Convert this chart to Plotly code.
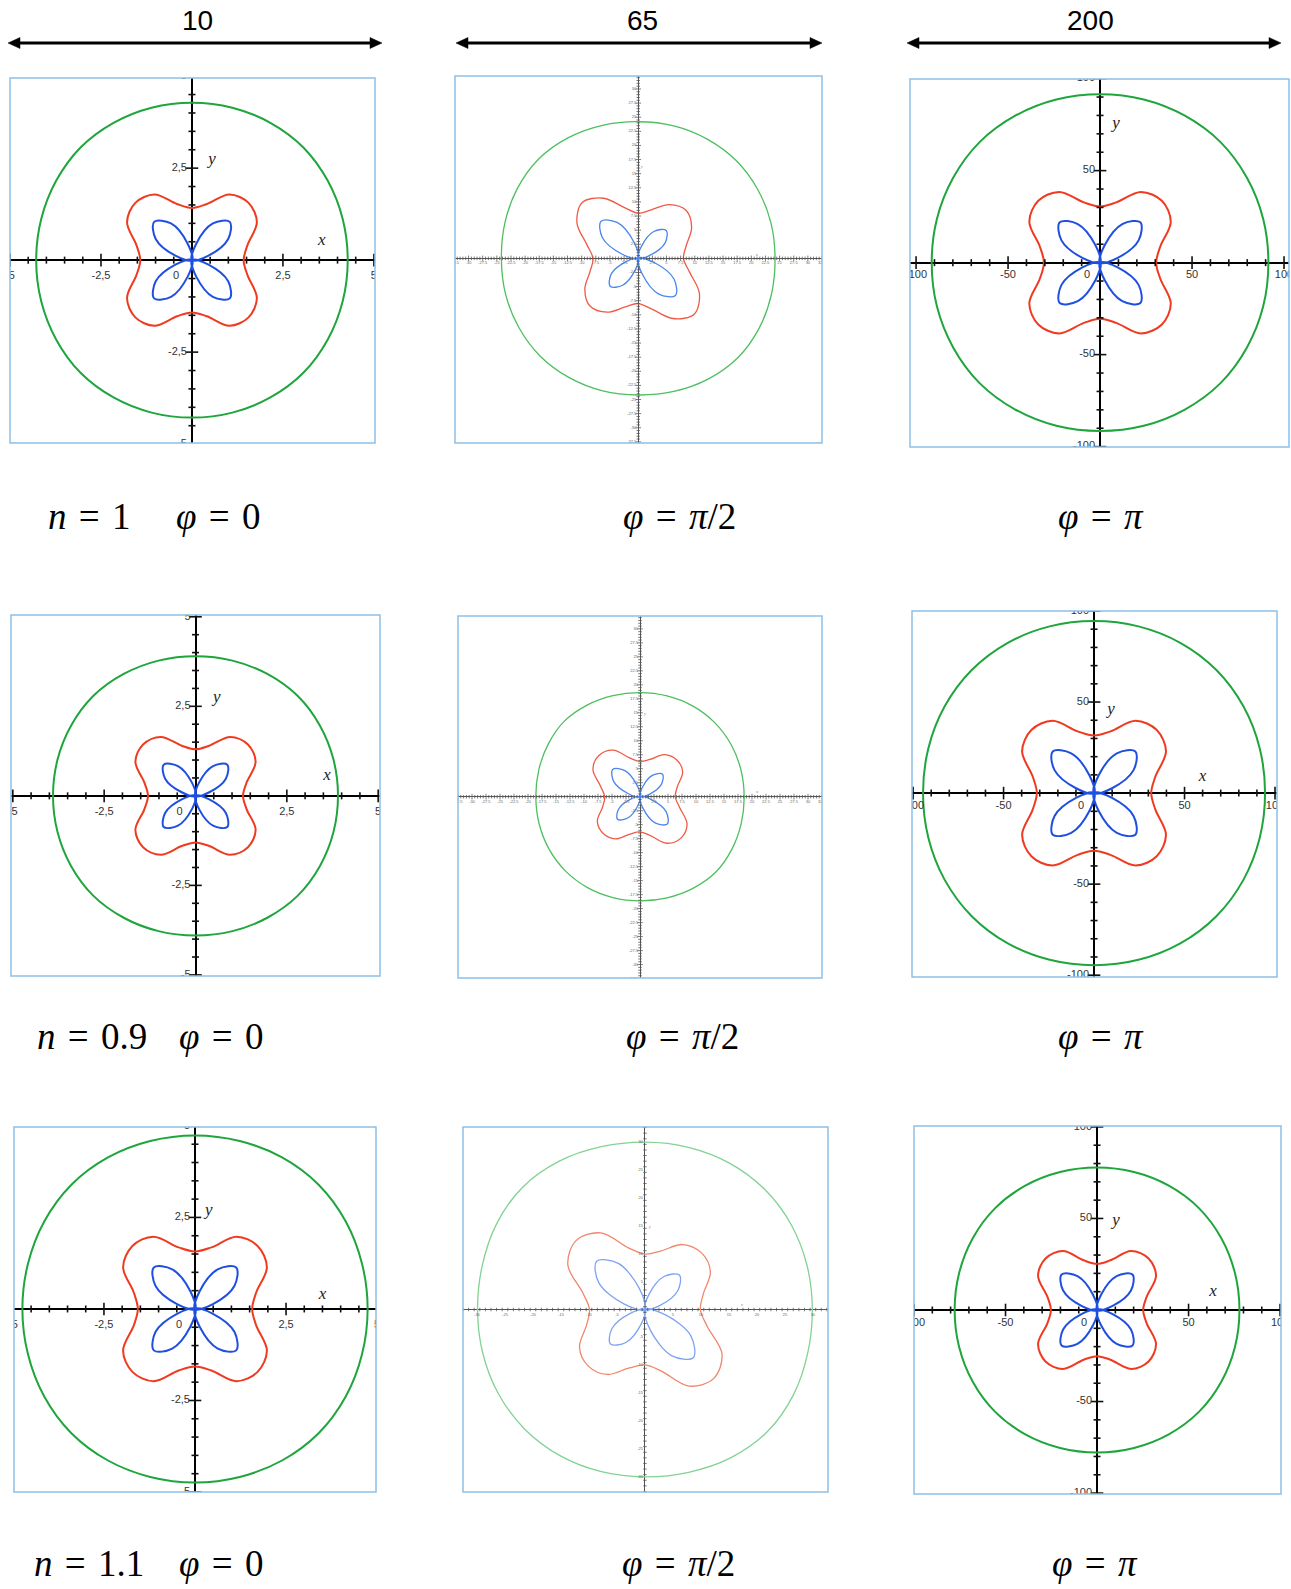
import numpy as np
import plotly.graph_objects as go

W, H = 1291, 1589

# Every curve is sampled in polar form at these angles (degrees); the
# second half-turn repeats the first one (point symmetry about the origin).
angles_deg = [0, 15, 30, 45, 60, 75, 90, 105, 120, 135, 150, 165]

span_headers = ["10", "65", "200"]
n_values = ["1", "0.9", "1.1"]
phi_values = ["0", "<i>π</i>/2", "<i>π</i>"]

# ---- n = 1 ----
blue_n1_phi0 = [0, 0.47, 1.15, 1.47, 1.15, 0.47, 0, 0.47, 1.15, 1.47, 1.15, 0.47]
red_n1_phi0 = [1.42, 1.58, 2.06, 2.20, 2.06, 1.58, 1.42, 1.58, 2.06, 2.20, 2.06, 1.58]
green_n1_phi0 = [4.28, 4.29, 4.31, 4.33, 4.31, 4.29, 4.28, 4.29, 4.31, 4.33, 4.31, 4.29]

blue_n1_phi90 = [0, 2.2, 5.5, 7.0, 5.5, 2.2, 0, 3.0, 7.3, 9.3, 7.3, 3.0]
red_n1_phi90 = [8.0, 8.8, 10.9, 12.0, 11.0, 8.9, 8.0, 9.3, 12.3, 14.0, 12.5, 9.4]
green_n1_phi90 = [24.2, 24.3, 24.4, 24.5, 24.4, 24.3, 24.2, 24.4, 24.7, 24.9, 24.7, 24.4]

blue_n1_phi180 = [0, 9.9, 24.2, 31.0, 24.2, 9.9, 0, 9.9, 24.2, 31.0, 24.2, 9.9]
red_n1_phi180 = [30.5, 33.9, 44.4, 47.5, 44.4, 33.9, 30.5, 33.9, 44.4, 47.5, 44.4, 33.9]
green_n1_phi180 = [91.5, 91.8, 92.2, 92.6, 92.2, 91.8, 91.5, 91.8, 92.2, 92.6, 92.2, 91.8]

# ---- n = 0.9 ----
blue_n09_phi0 = [0, 0.39, 0.96, 1.23, 0.96, 0.39, 0, 0.39, 0.96, 1.23, 0.96, 0.39]
red_n09_phi0 = [1.30, 1.45, 1.90, 2.03, 1.90, 1.45, 1.30, 1.45, 1.90, 2.03, 1.90, 1.45]
green_n09_phi0 = [3.90, 3.91, 3.93, 3.95, 3.93, 3.91, 3.90, 3.91, 3.93, 3.95, 3.93, 3.91]

blue_n09_phi90 = [0, 1.8, 4.4, 5.7, 4.4, 1.8, 0, 2.2, 5.4, 6.9, 5.4, 2.2]
red_n09_phi90 = [6.3, 6.9, 8.8, 9.3, 8.7, 6.9, 6.3, 7.2, 9.6, 10.4, 9.7, 7.3]
green_n09_phi90 = [18.6, 18.65, 18.75, 18.8, 18.75, 18.65, 18.6, 18.7, 18.9, 19.1, 18.9, 18.7]

blue_n09_phi180 = [0, 10.3, 25.2, 32.3, 25.2, 10.3, 0, 10.3, 25.2, 32.3, 25.2, 10.3]
red_n09_phi180 = [31.6, 35.1, 45.9, 49.0, 45.9, 35.1, 31.6, 35.1, 45.9, 49.0, 45.9, 35.1]
green_n09_phi180 = [94.5, 94.8, 95.3, 95.6, 95.3, 94.8, 94.5, 94.8, 95.3, 95.6, 95.3, 94.8]

# ---- n = 1.1 ----
blue_n11_phi0 = [0, 0.51, 1.25, 1.60, 1.25, 0.51, 0, 0.51, 1.25, 1.60, 1.25, 0.51]
red_n11_phi0 = [1.57, 1.74, 2.28, 2.43, 2.28, 1.74, 1.57, 1.74, 2.28, 2.43, 2.28, 1.74]
green_n11_phi0 = [4.74, 4.75, 4.78, 4.80, 4.78, 4.75, 4.74, 4.75, 4.78, 4.80, 4.78, 4.75]

blue_n11_phi90 = [0, 2.8, 6.8, 8.7, 6.8, 2.8, 0, 3.9, 9.5, 12.2, 9.5, 3.9]
red_n11_phi90 = [9.9, 10.8, 13.5, 14.3, 13.4, 10.8, 9.9, 11.4, 15.8, 17.4, 15.9, 11.5]
green_n11_phi90 = [29.9, 30.0, 30.2, 30.3, 30.2, 30.0, 29.9, 30.1, 30.6, 30.9, 30.6, 30.1]

blue_n11_phi180 = [0, 8.8, 21.4, 27.4, 21.4, 8.8, 0, 8.8, 21.4, 27.4, 21.4, 8.8]
red_n11_phi180 = [25.2, 28.1, 37.2, 39.8, 37.2, 28.1, 25.2, 28.1, 37.2, 39.8, 37.2, 28.1]
green_n11_phi180 = [77.8, 78.0, 78.4, 78.7, 78.4, 78.0, 77.8, 78.0, 78.4, 78.7, 78.4, 78.0]

# ---- panel geometry (pixel boxes) and axis styles ----
STYLES = {
    "unit": dict(major=2.5, minor=0.5, lim=5.0, labels=[-5, -2.5, 2.5, 5], dec=",",
                 font=11, xoff=16, yoff=5, zero=(16, 16), axis_w=2, axis_c="black",
                 tick_c="#111", tick_big=9, tick_small=5, tick_w=1.6, lab_c="#333"),
    "hundred": dict(major=50, minor=10, lim=100.0, labels=[-100, -50, 50, 100], dec=".",
                    font=11, xoff=13, yoff=5, zero=(13, 13), axis_w=2, axis_c="black",
                    tick_c="#111", tick_big=9, tick_small=5, tick_w=1.6, lab_c="#333"),
    "fine": dict(major=2.5, minor=0.5, lim=32.5,
                 labels=[v for v in np.arange(-32.5, 32.6, 2.5) if abs(v) > 1e-9], dec=".",
                 font=4, xoff=5, yoff=2, zero=None, axis_w=1, axis_c="#555",
                 tick_c="#555", tick_big=4, tick_small=2.5, tick_w=0.8, lab_c="#666"),
    "fine5": dict(major=5, minor=1, lim=32.5,
                  labels=[v for v in np.arange(-30, 31, 5) if v != 0], dec=".",
                  font=4, xoff=5, yoff=2, zero=None, axis_w=1, axis_c="#555",
                  tick_c="#555", tick_big=4, tick_small=2.5, tick_w=0.8, lab_c="#666"),
}

STRONG = ("#1f4fe0", "#ef3a1f", "#1ea53c")
SOFT = ("#4a86ee", "#f05a45", "#4cbf5e")
PALE = ("#7ea3f3", "#f0866a", "#82d292")

panels = [
    dict(box=(10, 78, 375, 443), xr=(-5.0, 5.03), yr=(-4.97, 4.95), style="unit",
         curves=(blue_n1_phi0, red_n1_phi0, green_n1_phi0), colors=STRONG, lw=2.0,
         xlab=(3.57, 0.54), ylab=(0.55, 2.72)),
    dict(box=(455, 76, 822, 443), xr=(-32.4, 32.5), yr=(-32.7, 32.3), style="fine",
         curves=(blue_n1_phi90, red_n1_phi90, green_n1_phi90), colors=SOFT, lw=1.3,
         xlab=(21.0, 0.6), ylab=(0.65, 16.2)),
    dict(box=(910, 79, 1289, 447), xr=(-103.3, 102.7), yr=(-100.2, 99.8), style="hundred",
         curves=(blue_n1_phi180, red_n1_phi180, green_n1_phi180), colors=STRONG, lw=2.0,
         xlab=None, ylab=(8.7, 75.4)),
    dict(box=(11, 615, 380, 976), xr=(-5.05, 5.05), yr=(-5.03, 5.05), style="unit",
         curves=(blue_n09_phi0, red_n09_phi0, green_n09_phi0), colors=STRONG, lw=2.0,
         xlab=(3.6, 0.56), ylab=(0.58, 2.74)),
    dict(box=(458, 616, 822, 978), xr=(-32.5, 32.5), yr=(-32.4, 32.3), style="fine",
         curves=(blue_n09_phi90, red_n09_phi90, green_n09_phi90), colors=SOFT, lw=1.3,
         xlab=(20.9, 0.8), ylab=(0.9, 14.8)),
    dict(box=(912, 611, 1277, 977), xr=(-100.6, 101.1), yr=(-101.0, 100.0), style="hundred",
         curves=(blue_n09_phi180, red_n09_phi180, green_n09_phi180), colors=STRONG, lw=2.0,
         xlab=(60.0, 8.8), ylab=(9.4, 45.6)),
    dict(box=(14, 1127, 376, 1492), xr=(-4.97, 4.97), yr=(-5.0, 4.97), style="unit",
         curves=(blue_n11_phi0, red_n11_phi0, green_n11_phi0), colors=STRONG, lw=2.0,
         xlab=(3.5, 0.38), ylab=(0.38, 2.68)),
    dict(box=(463, 1127, 828, 1492), xr=(-32.5, 32.7), yr=(-32.6, 32.6), style="fine5",
         curves=(blue_n11_phi90, red_n11_phi90, green_n11_phi90), colors=PALE, lw=1.3,
         xlab=(17.3, 0.9), ylab=(0.9, 14.7)),
    dict(box=(914, 1126, 1281, 1494), xr=(-100.0, 100.5), yr=(-100.5, 100.5), style="hundred",
         curves=(blue_n11_phi180, red_n11_phi180, green_n11_phi180), colors=STRONG, lw=2.0,
         xlab=(63.4, 9.8), ylab=(10.4, 48.6)),
]


def closed_curve(radii):
    """Closed loop through the sampled radii over a full turn."""
    ang = angles_deg + [a + 180 for a in angles_deg] + [360]
    rr = list(radii) + list(radii) + [radii[0]]
    th = np.deg2rad(ang)
    rr = np.array(rr, dtype=float)
    return list(rr * np.cos(th)), list(rr * np.sin(th))


def petal_curve(radii):
    """Four petals meeting at the origin, drawn as separate open strokes."""
    full = list(radii) + list(radii)
    xs, ys = [], []
    for k in range(4):
        for j in range(7):
            idx = 6 * k + j
            r = full[idx % 24]
            a = np.deg2rad(15 * idx)
            xs.append(r * np.cos(a))
            ys.append(r * np.sin(a))
        xs.append(None)
        ys.append(None)
    return xs, ys


def fmt(v, dec):
    s = f"{v:g}"
    return s.replace(".", dec)


fig = go.Figure()
layout = dict(
    width=W, height=H, margin=dict(l=0, r=0, t=0, b=0),
    paper_bgcolor="white", plot_bgcolor="white", showlegend=False,
)
shapes = []
annotations = []

for i, p in enumerate(panels):
    k = i + 1
    sx = "" if k == 1 else str(k)
    xa, ya = "x" + sx, "y" + sx
    x0, y0, x1, y1 = p["box"]
    st = STYLES[p["style"]]
    axis_common = dict(showgrid=False, showticklabels=False, ticks="", showline=False,
                       zeroline=True, zerolinecolor=st["axis_c"], zerolinewidth=st["axis_w"],
                       fixedrange=True)
    layout["xaxis" + sx] = dict(domain=[x0 / W, x1 / W], range=list(p["xr"]), anchor=ya, **axis_common)
    layout["yaxis" + sx] = dict(domain=[1 - y1 / H, 1 - y0 / H], range=list(p["yr"]), anchor=xa, **axis_common)

    # pixels per data unit in this panel
    pxu = (x1 - x0) / (p["xr"][1] - p["xr"][0])
    pyu = (y1 - y0) / (p["yr"][1] - p["yr"][0])

    # the three curves: green (outer), red (lobed), blue (four petals)
    blue, red, green = p["curves"]
    cb, cr, cg = p["colors"]
    gx, gy = closed_curve(green)
    rx, ry = closed_curve(red)
    bx, by = petal_curve(blue)
    for cx, cy, col in ((gx, gy, cg), (rx, ry, cr), (bx, by, cb)):
        fig.add_trace(go.Scatter(x=cx, y=cy, mode="lines", xaxis=xa, yaxis=ya,
                                 line=dict(color=col, width=p["lw"], shape="spline", smoothing=1.0),
                                 connectgaps=False, hoverinfo="skip"))

    # tick marks crossing both axes
    lim = st["lim"]
    vals = np.arange(-lim, lim + 1e-9, st["minor"])
    vals = vals[np.abs(vals) > 1e-9]
    rem = np.mod(vals + 1e-9, st["major"])
    is_major = (rem < 1e-6) | (np.abs(rem - st["major"]) < 1e-6)
    for major in (True, False):
        sel = vals[is_major == major]
        size = st["tick_big"] if major else st["tick_small"]
        fig.add_trace(go.Scatter(x=sel, y=np.zeros_like(sel), mode="markers", xaxis=xa, yaxis=ya,
                                 marker=dict(symbol="line-ns", size=size,
                                             line=dict(color=st["tick_c"], width=st["tick_w"])),
                                 hoverinfo="skip"))
        fig.add_trace(go.Scatter(x=np.zeros_like(sel), y=sel, mode="markers", xaxis=xa, yaxis=ya,
                                 marker=dict(symbol="line-ew", size=size,
                                             line=dict(color=st["tick_c"], width=st["tick_w"])),
                                 hoverinfo="skip"))

    # tick labels
    labs = list(st["labels"])
    txt = [fmt(v, st["dec"]) for v in labs]
    lab_font = dict(family="Liberation Sans, Arial, sans-serif", size=st["font"], color=st["lab_c"])
    fig.add_trace(go.Scatter(x=labs, y=[-st["xoff"] / pyu] * len(labs), mode="text", text=txt,
                             textposition="middle center", textfont=lab_font,
                             xaxis=xa, yaxis=ya, hoverinfo="skip"))
    fig.add_trace(go.Scatter(x=[-st["yoff"] / pxu] * len(labs), y=labs, mode="text", text=txt,
                             textposition="middle left", textfont=lab_font,
                             xaxis=xa, yaxis=ya, hoverinfo="skip"))
    if st["zero"] is not None:
        zx, zy = st["zero"]
        fig.add_trace(go.Scatter(x=[-zx / pxu], y=[-zy / pyu], mode="text", text=["0"],
                                 textposition="middle center", textfont=lab_font,
                                 xaxis=xa, yaxis=ya, hoverinfo="skip"))

    # axis names
    name_size = 17 if st["font"] > 5 else 5
    name_col = "#222" if st["font"] > 5 else "#888"
    for pos, name in ((p["xlab"], "x"), (p["ylab"], "y")):
        if pos is None:
            continue
        fig.add_trace(go.Scatter(x=[pos[0]], y=[pos[1]], mode="text", text=[f"<i>{name}</i>"],
                                 textposition="middle center",
                                 textfont=dict(family="Liberation Serif, Times New Roman, serif",
                                               size=name_size, color=name_col),
                                 xaxis=xa, yaxis=ya, hoverinfo="skip"))

    # panel frame
    shapes.append(dict(type="rect", xref=xa + " domain", yref=ya + " domain",
                       x0=0, x1=1, y0=0, y1=1, line=dict(color="#8fc0e6", width=1.5),
                       fillcolor="rgba(0,0,0,0)", layer="above"))


def PX(x):
    return x / W


def PY(y):
    return 1 - y / H


# span arrows and headers above each column
arrow_spans = [(8, 382), (456, 822), (907, 1281)]
header_x = [197, 642, 1090]
arrow_y = 43
head_len, head_half = 12, 5.5
for (a0, a1), hx, label in zip(arrow_spans, header_x, span_headers):
    shapes.append(dict(type="line", xref="paper", yref="paper",
                       x0=PX(a0 + head_len - 1), x1=PX(a1 - head_len + 1),
                       y0=PY(arrow_y), y1=PY(arrow_y), line=dict(color="black", width=3)))
    for tip, back in ((a0, a0 + head_len), (a1, a1 - head_len)):
        path = (f"M {PX(tip)} {PY(arrow_y)} L {PX(back)} {PY(arrow_y - head_half)} "
                f"L {PX(back)} {PY(arrow_y + head_half)} Z")
        shapes.append(dict(type="path", xref="paper", yref="paper", path=path,
                           fillcolor="black", line=dict(color="black", width=0.5)))
    annotations.append(dict(x=PX(hx), y=PY(21), xref="paper", yref="paper", text=label,
                            showarrow=False, xanchor="center", yanchor="middle",
                            font=dict(family="Liberation Sans, Arial, sans-serif", size=28, color="black")))

# parameter captions under each panel
math_font = dict(family="Liberation Serif, Times New Roman, serif", size=37, color="black")
SP = "\u2004"
caption_y = [516, 1036, 1563]
n_x = [46, 35, 32]
phi0_x = [174, 177, 177]
phi_x = [[621, 1056], [624, 1056], [620, 1050]]
for r in range(3):
    cy = caption_y[r]
    annotations.append(dict(x=PX(n_x[r]), y=PY(cy), xref="paper", yref="paper",
                            text=f"<i>n</i>{SP}={SP}{n_values[r]}", showarrow=False,
                            xanchor="left", yanchor="middle", font=math_font))
    annotations.append(dict(x=PX(phi0_x[r]), y=PY(cy), xref="paper", yref="paper",
                            text=f"<i>φ</i>{SP}={SP}{phi_values[0]}", showarrow=False,
                            xanchor="left", yanchor="middle", font=math_font))
    for c in (1, 2):
        annotations.append(dict(x=PX(phi_x[r][c - 1]), y=PY(cy), xref="paper", yref="paper",
                                text=f"<i>φ</i>{SP}={SP}{phi_values[c]}", showarrow=False,
                                xanchor="left", yanchor="middle", font=math_font))

layout["shapes"] = shapes
layout["annotations"] = annotations
fig.update_layout(**layout)
fig.write_html("out.html")
